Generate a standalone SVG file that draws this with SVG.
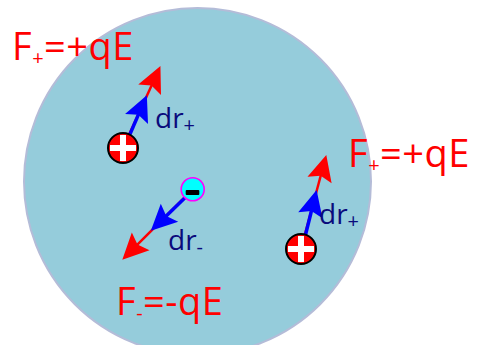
<svg xmlns="http://www.w3.org/2000/svg" width="479" height="345" viewBox="0 0 479 345">
<style>
.lbl{font-family:"Open Sans","DejaVu Sans",sans-serif;font-size:38px;fill:#ff0000;letter-spacing:0.5px}
.dr{font-family:"Open Sans","DejaVu Sans",sans-serif;font-size:28px;fill:#0a0a7c}
.sub{font-size:20px}
.red{stroke:#ff0000;stroke-width:2.5;fill:none}
.blue{stroke:#0000ff;stroke-width:3.5;fill:none}
.pos{fill:#ff0000}
.ring{fill:none;stroke:#000;stroke-width:2}
.plus{fill:#ffffff}
</style>
<defs>
<marker id="ahR" markerUnits="userSpaceOnUse" markerWidth="27" markerHeight="26" refX="11" refY="12.5" orient="auto" overflow="visible">
<path d="M26,12.5 L0,0 L4.5,12.5 L0,25 Z" fill="#ff0000"/>
</marker>
<marker id="ahB" markerUnits="userSpaceOnUse" markerWidth="27" markerHeight="26" refX="11" refY="12.5" orient="auto" overflow="visible">
<path d="M26,12.5 L0,0 L4.5,12.5 L0,25 Z" fill="#0000ff"/>
</marker>
</defs>
<rect width="479" height="345" fill="#ffffff"/>
<g id="sphere">
<circle cx="197.5" cy="181.5" r="173.5" fill="#95ccdb" stroke="#b4bcd8" stroke-width="2"/>
</g>
<g id="connectors">
<line class="red" x1="123" y1="148" x2="154.2" y2="79.7" marker-end="url(#ahR)"/>
<line class="blue" x1="124" y1="148" x2="140.9" y2="108.9" marker-end="url(#ahB)"/>
<line class="red" x1="301" y1="249" x2="322.4" y2="169.5" marker-end="url(#ahR)"/>
<line class="blue" x1="302" y1="249" x2="313" y2="204.6" marker-end="url(#ahB)"/>
<line class="red" x1="192.7" y1="189.3" x2="132.9" y2="249.1" marker-end="url(#ahR)"/>
<line class="blue" x1="193.7" y1="189.3" x2="161.6" y2="220.4" marker-end="url(#ahB)"/>
</g>
<g id="charge-pos-1">
<circle class="pos" cx="123" cy="148" r="15"/>
<rect class="plus" x="120" y="135" width="6" height="26"/>
<rect class="plus" x="110" y="145" width="26" height="6"/>
<circle class="ring" cx="123" cy="148" r="15"/>
</g>
<g id="charge-pos-2">
<circle class="pos" cx="301" cy="249" r="15"/>
<rect class="plus" x="298" y="236" width="6" height="26"/>
<rect class="plus" x="288" y="246" width="26" height="6"/>
<circle class="ring" cx="301" cy="249" r="15"/>
</g>
<g id="charge-neg">
<circle cx="192.7" cy="189.3" r="11.5" fill="#00ffff" stroke="#ff00ff" stroke-width="1.6"/>
<rect x="185.7" y="190" width="13.6" height="5" rx="1" fill="#000000"/>
</g>
<g id="labels">
<text class="lbl" x="12" y="60">F<tspan class="sub" dy="5">+</tspan><tspan dy="-5">=+qE</tspan></text>
<text class="lbl" x="348" y="167">F<tspan class="sub" dy="5">+</tspan><tspan dy="-5">=+qE</tspan></text>
<text class="lbl" x="116" y="315">F<tspan class="sub" dy="5">-</tspan><tspan dy="-5">=-qE</tspan></text>
<text class="dr" x="155" y="128">dr<tspan class="sub" dy="4">+</tspan></text>
<text class="dr" x="319" y="224">dr<tspan class="sub" dy="4">+</tspan></text>
<text class="dr" x="168" y="250">dr<tspan class="sub" dy="4">-</tspan></text>
</g>
</svg>
